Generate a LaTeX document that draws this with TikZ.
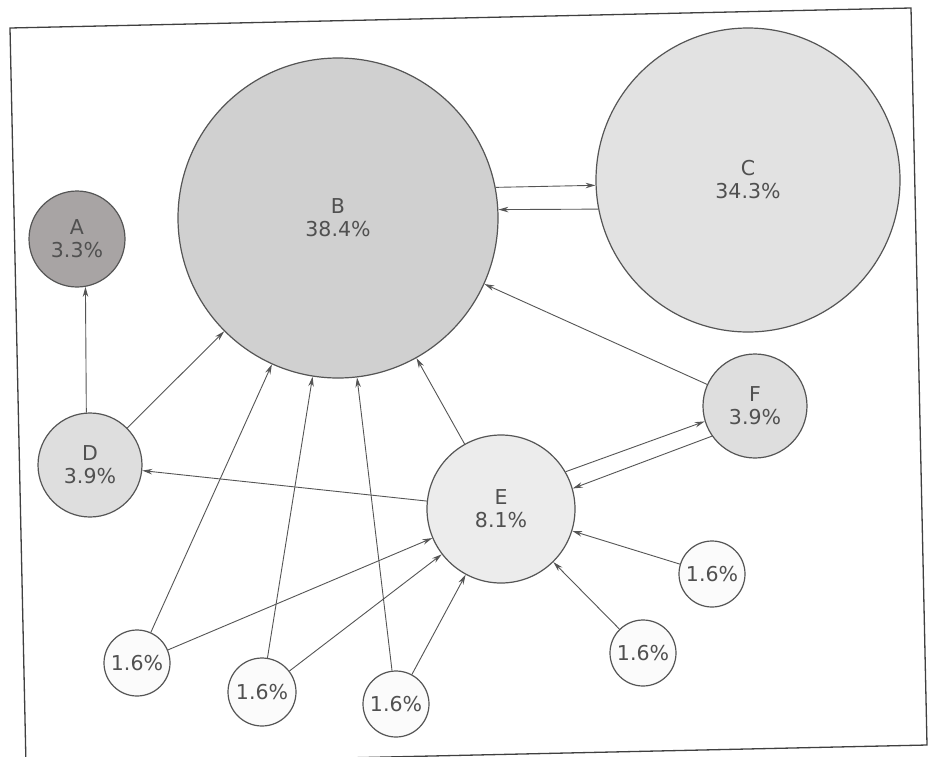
\documentclass[tikz,border=0pt]{standalone}
\usepackage{fontspec}
\setmainfont{DejaVu Sans}
\usetikzlibrary{arrows.meta}
\definecolor{edgeg}{RGB}{85,85,85}
\definecolor{textg}{RGB}{80,80,80}
\definecolor{fillA}{RGB}{168,164,164}
\definecolor{fillB}{RGB}{208,208,208}
\definecolor{fillC}{RGB}{226,226,226}
\definecolor{fillD}{RGB}{222,222,222}
\definecolor{fillE}{RGB}{236,236,236}
\definecolor{fillS}{RGB}{251,251,251}
\tikzset{
  bubble/.style={circle, draw=edgeg, line width=1.2pt, inner sep=0pt, align=center,
    text=textg, font=\fontsize{20.5}{23}\selectfont},
  arr/.style={draw=edgeg, line width=0.9pt, -{Stealth[length=10pt,width=5.5pt]}},
  frameline/.style={draw=black!75, line width=1.3pt}
}
\begin{document}
\begin{tikzpicture}[x=1pt,y=-1pt]
\useasboundingbox (0,0) rectangle (932,756);
\fill[white] (0,0) rectangle (932,756);
\draw[frameline] (10,28) -- (911,8) -- (927,745) -- (26,765) -- cycle;

\node[bubble, fill=fillA, minimum size=96pt]  (A) at (77,239) {A\\3.3\%};
\node[bubble, fill=fillB, minimum size=320pt] (B) at (338,218) {B\\38.4\%};
\node[bubble, fill=fillC, minimum size=304pt] (C) at (748,180) {C\\34.3\%};
\node[bubble, fill=fillD, minimum size=104pt] (D) at (90,465) {D\\3.9\%};
\node[bubble, fill=fillE, minimum size=148pt] (E) at (501,509) {E\\8.1\%};
\node[bubble, fill=fillD, minimum size=104pt] (F) at (755,406) {F\\3.9\%};
\node[bubble, fill=fillS, minimum size=66pt] (s1) at (137,663) {1.6\%};
\node[bubble, fill=fillS, minimum size=68pt] (s2) at (262,692) {1.6\%};
\node[bubble, fill=fillS, minimum size=66pt] (s3) at (396,704) {1.6\%};
\node[bubble, fill=fillS, minimum size=66pt] (s4) at (643,653) {1.6\%};
\node[bubble, fill=fillS, minimum size=66pt] (s5) at (712,574) {1.6\%};

\draw[arr] (D.94) -- (A.-80);
\draw[arr] (D) -- (B);
\draw[arr] (s1) -- (B);
\draw[arr] (s2) -- (B);
\draw[arr] (s3) -- (B);
\draw[arr] (E) -- (B);
\draw[arr] (F) -- (B);
\draw[arr] (B.11.5) -- (C.182.3);
\draw[arr] (C.191) -- (B.3.2);
\draw[arr] (E) -- (D);
\draw[arr] (E.30.6) -- (F.197);
\draw[arr] (F.215.8) -- (E.16.6);
\draw[arr] (s1) -- (E);
\draw[arr] (s2) -- (E);
\draw[arr] (s3) -- (E);
\draw[arr] (s4) -- (E);
\draw[arr] (s5) -- (E);
\end{tikzpicture}
\end{document}
